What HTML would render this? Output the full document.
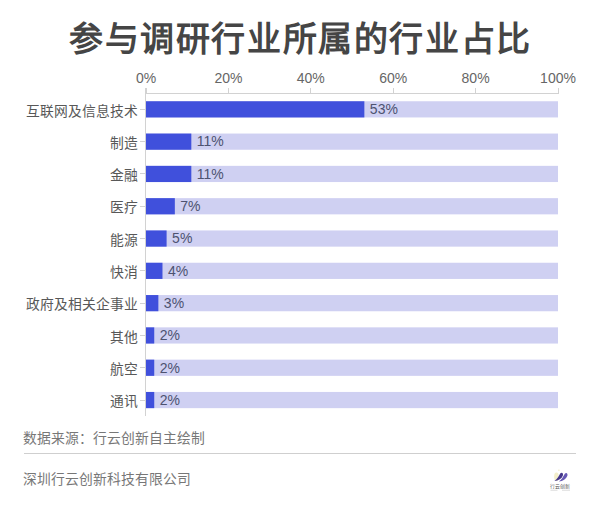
<!DOCTYPE html>
<html lang="zh-CN"><head><meta charset="utf-8"><style>
html,body{margin:0;padding:0;background:#fff;width:600px;height:510px;overflow:hidden;position:relative}
div{position:absolute;white-space:nowrap;font-family:"Liberation Sans", sans-serif}
.t{font-size:34px;font-weight:bold;color:#454545;line-height:50px;letter-spacing:1.6px}
.xl{width:80px;text-align:center;font-size:14px;color:#666;line-height:16px}
.vt{width:1px;background:#d2d2d2}
.hl{height:1px;background:#d2d2d2}
.vl{width:1px;background:#d2d2d2}
.bg{background:#cfd0f2}
.fg{background:#4050dc}
.tk{width:5px;height:1px;background:#d2d2d2}
.cl{right:462px;font-size:13.8px;color:#585858;line-height:20px}
.vlb{font-size:14px;color:#4d5270;line-height:18px}
.src{left:23px;font-size:13.8px;color:#777;line-height:20px}
.sep{left:24px;top:453px;width:552px;height:1px;background:#cfcfcf}
.co{left:23px;font-size:13.8px;color:#777;line-height:20px}
</style></head><body>
<div class="t" style="left:69px;top:14px">参与调研行业所属的行业占比</div>
<div style="left:0;top:0;width:600px;height:510px"><svg width="600" height="510"><rect x="146.0" y="101.25" width="412.0" height="16.2" fill="#cfd0f2"/><rect x="146.0" y="101.25" width="218.36" height="16.2" fill="#4050dc"/><rect x="146.0" y="133.55" width="412.0" height="16.2" fill="#cfd0f2"/><rect x="146.0" y="133.55" width="45.32" height="16.2" fill="#4050dc"/><rect x="146.0" y="165.85" width="412.0" height="16.2" fill="#cfd0f2"/><rect x="146.0" y="165.85" width="45.32" height="16.2" fill="#4050dc"/><rect x="146.0" y="198.15" width="412.0" height="16.2" fill="#cfd0f2"/><rect x="146.0" y="198.15" width="28.84" height="16.2" fill="#4050dc"/><rect x="146.0" y="230.45" width="412.0" height="16.2" fill="#cfd0f2"/><rect x="146.0" y="230.45" width="20.60" height="16.2" fill="#4050dc"/><rect x="146.0" y="262.75" width="412.0" height="16.2" fill="#cfd0f2"/><rect x="146.0" y="262.75" width="16.48" height="16.2" fill="#4050dc"/><rect x="146.0" y="295.05" width="412.0" height="16.2" fill="#cfd0f2"/><rect x="146.0" y="295.05" width="12.36" height="16.2" fill="#4050dc"/><rect x="146.0" y="327.35" width="412.0" height="16.2" fill="#cfd0f2"/><rect x="146.0" y="327.35" width="8.24" height="16.2" fill="#4050dc"/><rect x="146.0" y="359.65" width="412.0" height="16.2" fill="#cfd0f2"/><rect x="146.0" y="359.65" width="8.24" height="16.2" fill="#4050dc"/><rect x="146.0" y="391.95" width="412.0" height="16.2" fill="#cfd0f2"/><rect x="146.0" y="391.95" width="8.24" height="16.2" fill="#4050dc"/></svg></div>
<div class="xl" style="left:106.00px;top:69.5px">0%</div>
<div class="vt" style="left:145.50px;top:88px;height:5px"></div>
<div class="xl" style="left:188.40px;top:69.5px">20%</div>
<div class="vt" style="left:227.90px;top:88px;height:5px"></div>
<div class="xl" style="left:270.80px;top:69.5px">40%</div>
<div class="vt" style="left:310.30px;top:88px;height:5px"></div>
<div class="xl" style="left:353.20px;top:69.5px">60%</div>
<div class="vt" style="left:392.70px;top:88px;height:5px"></div>
<div class="xl" style="left:435.60px;top:69.5px">80%</div>
<div class="vt" style="left:475.10px;top:88px;height:5px"></div>
<div class="xl" style="left:518.00px;top:69.5px">100%</div>
<div class="vt" style="left:557.50px;top:88px;height:5px"></div>
<div class="hl" style="left:145px;top:93px;width:413.5px"></div>
<div class="vl" style="left:145px;top:88px;height:328.2px"></div>
<div class="tk" style="left:140px;top:108.85px"></div>
<div class="cl" style="top:101.55px">互联网及信息技术</div>
<div class="vlb" style="left:369.86px;top:100.15px">53%</div>
<div class="tk" style="left:140px;top:141.15px"></div>
<div class="cl" style="top:133.85px">制造</div>
<div class="vlb" style="left:196.82px;top:132.45px">11%</div>
<div class="tk" style="left:140px;top:173.45px"></div>
<div class="cl" style="top:166.15px">金融</div>
<div class="vlb" style="left:196.82px;top:164.75px">11%</div>
<div class="tk" style="left:140px;top:205.75px"></div>
<div class="cl" style="top:198.45px">医疗</div>
<div class="vlb" style="left:180.34px;top:197.05px">7%</div>
<div class="tk" style="left:140px;top:238.05px"></div>
<div class="cl" style="top:230.75px">能源</div>
<div class="vlb" style="left:172.10px;top:229.35px">5%</div>
<div class="tk" style="left:140px;top:270.35px"></div>
<div class="cl" style="top:263.05px">快消</div>
<div class="vlb" style="left:167.98px;top:261.65px">4%</div>
<div class="tk" style="left:140px;top:302.65px"></div>
<div class="cl" style="top:295.35px">政府及相关企事业</div>
<div class="vlb" style="left:163.86px;top:293.95px">3%</div>
<div class="tk" style="left:140px;top:334.95px"></div>
<div class="cl" style="top:327.65px">其他</div>
<div class="vlb" style="left:159.74px;top:326.25px">2%</div>
<div class="tk" style="left:140px;top:367.25px"></div>
<div class="cl" style="top:359.95px">航空</div>
<div class="vlb" style="left:159.74px;top:358.55px">2%</div>
<div class="tk" style="left:140px;top:399.55px"></div>
<div class="cl" style="top:392.25px">通讯</div>
<div class="vlb" style="left:159.74px;top:390.85px">2%</div>
<div class="src" style="top:429.2px">数据来源：行云创新自主绘制</div>
<div class="sep"></div>
<div class="co" style="top:470.2px">深圳行云创新科技有限公司</div>
<div style="left:546px;top:466px;width:28px;height:28px"><svg width="28" height="28" viewBox="0 0 28 28">
<ellipse cx="10.4" cy="10.6" rx="2.3" ry="4.2" fill="#efe8b8" opacity="0.75"/>
<circle cx="12.9" cy="4.3" r="0.8" fill="#e6d58c" opacity="0.5"/>
<path d="M8.4,15 C11,13.6 12.6,10.6 14.2,7.6 C15.6,5.9 17.6,7 16.9,9.6 C15.7,12.8 12.6,14.8 8.4,15 Z" fill="#45378a"/>
<path d="M12.8,15.6 C15.6,14 17,11 18.8,7.8 C20.2,6.2 22,7.3 21.4,9.8 C20.1,13.1 17,15.3 12.8,15.6 Z" fill="#6658b4"/>
<text x="4.1" y="21.7" font-size="4.8" fill="#555" textLength="20.5" lengthAdjust="spacingAndGlyphs" font-family="Liberation Sans, sans-serif">行云创新</text>
<rect x="4.5" y="23.8" width="7" height="0.7" fill="#ccc"/>
<rect x="16" y="23.8" width="8" height="0.7" fill="#ccc"/>
</svg></div>

</body></html>
